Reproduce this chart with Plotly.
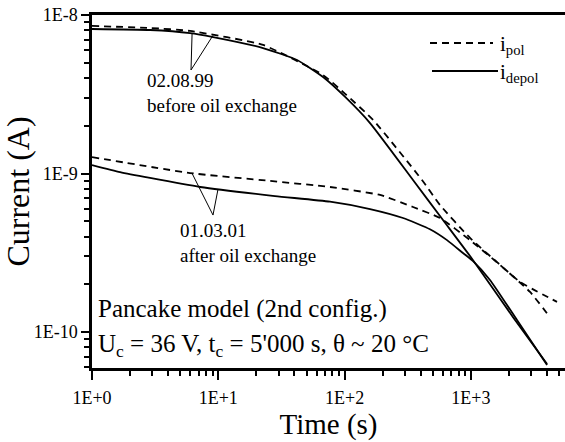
import numpy as np
import plotly.graph_objects as go

# Polarisation / depolarisation currents, pancake model (2nd config.)
# 02.08.99 - before oil exchange
t_a_pol = [1, 2.88, 5.97, 22.6, 67.5, 101, 168, 410, 569, 984, 1610, 2448, 4806]
i_a_pol = [8.53e-9, 8.28e-9, 7.93e-9, 6.47e-9, 4.18e-9, 3.18e-9, 2.18e-9,
           9.10e-10, 6.33e-10, 3.92e-10, 2.76e-10, 2.07e-10, 1.55e-10]
t_a_depol = [1, 2.88, 5.97, 9.1, 22.6, 42, 67.5, 101, 159, 348, 601, 1040, 2155, 4008]
i_a_depol = [8.16e-9, 8.04e-9, 7.69e-9, 7.26e-9, 6.19e-9, 5.20e-9, 4.06e-9,
             3.04e-9, 2.08e-9, 9.10e-10, 5.09e-10, 2.84e-10, 1.24e-10, 6.28e-11]

# 01.03.01 - after oil exchange
t_b_pol = [1, 5.97, 25.7, 76.6, 191, 348, 569, 984, 1700, 2938, 4230]
i_b_pol = [1.27e-9, 1.007e-9, 8.98e-10, 8.22e-10, 7.32e-10, 6.15e-10, 5.24e-10,
           3.80e-10, 2.65e-10, 1.79e-10, 1.24e-10]
t_b_depol = [1, 1.67, 2.88, 7.2, 28.1, 76.6, 159, 290, 474, 647, 865, 1040,
             1416, 2317, 4008]
i_b_depol = [1.13e-9, 1.02e-9, 9.37e-10, 8.22e-10, 7.21e-10, 6.64e-10, 5.97e-10,
             5.24e-10, 4.45e-10, 3.80e-10, 3.15e-10, 2.80e-10, 2.13e-10, 1.19e-10,
             6.19e-11]

x_tickvals = [1, 10, 100, 1000]
x_ticktext = ["1E+0", "1E+1", "1E+2", "1E+3"]
y_tickvals = [1e-10, 1e-9, 1e-8]
y_ticktext = ["1E-10", "1E-9", "1E-8"]

FONT = "Liberation Serif, Times New Roman, serif"
DASH = "7px,5px"


def on_curve(ts, vals, t):
    """Current on a measured curve at time t (log-log interpolation)."""
    return 10 ** np.interp(np.log10(t), np.log10(ts), np.log10(vals))


fig = go.Figure()
curves = [
    (t_a_pol, i_a_pol, DASH),
    (t_a_depol, i_a_depol, "solid"),
    (t_b_pol, i_b_pol, DASH),
    (t_b_depol, i_b_depol, "solid"),
]
for ts, vals, dash in curves:
    fig.add_trace(go.Scatter(
        x=ts, y=vals, mode="lines",
        line=dict(color="black", width=1.8, dash=dash, shape="spline", smoothing=0.5),
        showlegend=False, hoverinfo="skip"))

# leader lines from the labels to the curves
leaders = [
    ((6.2, t_a_depol, i_a_depol), (6.08, 4.5e-9), (9.08, t_a_pol, i_a_pol)),
    ((6.19, t_b_pol, i_b_pol), (9.08, 5.47e-10), (9.95, t_b_depol, i_b_depol)),
]
for (t1, ts1, v1), (ta, ia), (t2, ts2, v2) in leaders:
    fig.add_trace(go.Scatter(
        x=[t1, ta, t2],
        y=[on_curve(ts1, v1, t1), ia, on_curve(ts2, v2, t2)],
        mode="lines", line=dict(color="black", width=1),
        showlegend=False, hoverinfo="skip"))

axis_common = dict(
    type="log", showline=True, linecolor="black", linewidth=2.5,
    ticks="outside", tickcolor="black", tickwidth=2,
    showgrid=False, zeroline=False,
    tickfont=dict(family=FONT, size=18, color="black"),
    minor=dict(ticks="outside", ticklen=5, tickwidth=1.5, tickcolor="black",
               dtick="D1", showgrid=False),
)

fig.update_layout(
    width=565, height=442,
    margin=dict(l=92, r=0, t=15, b=74),
    paper_bgcolor="white", plot_bgcolor="white",
    font=dict(family=FONT, color="black"),
    xaxis=dict(**axis_common, range=[0, 3.745], mirror=True, ticklen=9,
               tickmode="array", tickvals=x_tickvals, ticktext=x_ticktext,
               ticklabelstandoff=3,
               title=dict(text="Time (s)", font=dict(family=FONT, size=29),
                          standoff=6)),
    yaxis=dict(**axis_common, range=[np.log10(5.93e-11), -8], ticklen=8,
               tickmode="array", tickvals=y_tickvals, ticktext=y_ticktext,
               title=dict(text="Current (A)", font=dict(family=FONT, size=32),
                          standoff=2)),
)

# legend drawn as sample lines with labels
fig.add_shape(type="line", xref="paper", yref="paper",
              x0=(430 - 92) / 473, x1=(493 - 92) / 473,
              y0=(368 - 43) / 353, y1=(368 - 43) / 353,
              line=dict(color="black", width=1.8, dash=DASH))
fig.add_shape(type="line", xref="paper", yref="paper",
              x0=(432 - 92) / 473, x1=(498 - 92) / 473,
              y0=(368 - 71) / 353, y1=(368 - 71) / 353,
              line=dict(color="black", width=1.8))
fig.add_annotation(xref="paper", yref="paper", x=(498 - 92) / 473, y=(368 - 45) / 353,
                   xanchor="left", yanchor="middle", showarrow=False,
                   text="i<sub>pol</sub>", font=dict(family=FONT, size=21))
fig.add_annotation(xref="paper", yref="paper", x=(498 - 92) / 473, y=(368 - 73) / 353,
                   xanchor="left", yanchor="middle", showarrow=False,
                   text="i<sub>depol</sub>", font=dict(family=FONT, size=21))

# curve labels
fig.add_annotation(xref="paper", yref="paper", x=(145 - 92) / 473, y=(368 - 93) / 353,
                   xanchor="left", yanchor="middle", showarrow=False, align="left",
                   text="02.08.99<br>before oil exchange", font=dict(family=FONT, size=19))
fig.add_annotation(xref="paper", yref="paper", x=(178 - 92) / 473, y=(368 - 243) / 353,
                   xanchor="left", yanchor="middle", showarrow=False, align="left",
                   text="01.03.01<br>after oil exchange", font=dict(family=FONT, size=19))

# measurement conditions
fig.add_annotation(xref="paper", yref="paper", x=(96 - 92) / 473, y=(368 - 309) / 353,
                   xanchor="left", yanchor="middle", showarrow=False, align="left",
                   text="Pancake model (2nd config.)", font=dict(family=FONT, size=25))
fig.add_annotation(xref="paper", yref="paper", x=(96 - 92) / 473, y=(368 - 345) / 353,
                   xanchor="left", yanchor="middle", showarrow=False, align="left",
                   text="U<sub>c</sub> = 36 V, t<sub>c</sub> = 5'000 s, θ ~ 20 °C",
                   font=dict(family=FONT, size=25))

fig.write_html("out.html")
